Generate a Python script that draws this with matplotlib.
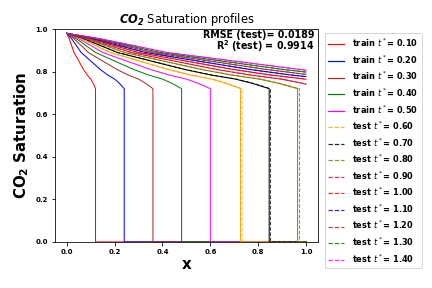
import numpy as np
import matplotlib
matplotlib.use("Agg")
import matplotlib.pyplot as plt

# dimensionless times
train_t = [0.10, 0.20, 0.30, 0.40, 0.50]
test_t = [0.60, 0.70, 0.80, 0.90, 1.00, 1.10, 1.20, 1.30, 1.40]
train_colors = ['red', 'blue', 'brown', 'green', 'magenta']
test_colors = ['orange', 'black', 'olive', 'crimson', 'red', 'blue', 'brown', 'green', 'magenta']

# saturation profile, as a function of x / t
xi_profile = [0.0, 0.1, 0.3, 0.5, 0.7, 0.85, 1.0, 1.1, 1.2]
s_profile = [0.98, 0.955, 0.89, 0.85, 0.81, 0.785, 0.765, 0.745, 0.72]

# front positions (x)
train_front = [0.12, 0.24, 0.36, 0.48, 0.60]
test_front_true = [0.732, 0.851, 0.973, None, None, None, None, None, None]
test_front_pred = [0.726, 0.846, 0.965, None, None, None, None, None, None]

rmse_test = 0.0189
r2_test = 0.9914


def profile(front, t):
    """Build (x, S) for one profile: rarefaction, shock to 0, then zero to x=1."""
    xi = np.array(xi_profile)
    s = np.array(s_profile)
    if front is None:
        x = xi * t
        keep = x < 1.0
        s_end = np.interp(1.0 / t, xi, s)
        x = np.append(x[keep], 1.0)
        s = np.append(s[keep], s_end)
        return x, s
    x = xi * front / xi[-1]
    x = np.concatenate([x, [front, 1.0]])
    s = np.concatenate([s, [0.0, 0.0]])
    return x, s


fig = plt.figure(figsize=(6, 4), dpi=72)
ax = fig.add_axes([0.127, 0.160, 0.609, 0.739])

for t, front, c in zip(train_t, train_front, train_colors):
    x, s = profile(front, t)
    ax.plot(x, s, '-', color=c, lw=1.0, label=r'train $t^*$= %.2f' % t)

for t, ft, fp, c in zip(test_t, test_front_true, test_front_pred, test_colors):
    x, s = profile(fp, t * 0.995)
    ax.plot(x, s, '-', color=c, lw=1.0)
for t, ft, fp, c in zip(test_t, test_front_true, test_front_pred, test_colors):
    x, s = profile(ft, t)
    ax.plot(x, s, '--', color=c, lw=1.0, alpha=0.85, label=r'test $t^*$= %.2f' % t)

ax.set_ylim(0, 1)
ax.set_xlim(-0.05, 1.05)
ax.set_title(r'$\mathbfit{CO_2}$ Saturation profiles', fontsize=11.5)
ax.set_xlabel('x', fontsize=15, fontweight='bold', labelpad=2)
ax.set_ylabel(r'$\mathbf{CO_2}$ Saturation', fontsize=15, fontweight='bold')
ax.tick_params(labelsize=7)
for lab in ax.get_xticklabels() + ax.get_yticklabels():
    lab.set_fontweight('bold')

ax.text(0.985, 0.995, 'RMSE (test)= %.4f\nR$^\\mathbf{2}$ (test) = %.4f' % (rmse_test, r2_test),
        transform=ax.transAxes, ha='right', va='top', fontsize=9.5,
        fontweight='bold', linespacing=0.85)

leg = ax.legend(loc='upper left', bbox_to_anchor=(1.01, 1.0),
                prop={'weight': 'bold', 'size': 8.3}, handlelength=1.9,
                labelspacing=0.5, borderpad=0.45, handletextpad=0.9)
for line in leg.get_lines():
    line.set_linewidth(1.2)

fig.savefig('out.png', dpi=72)
